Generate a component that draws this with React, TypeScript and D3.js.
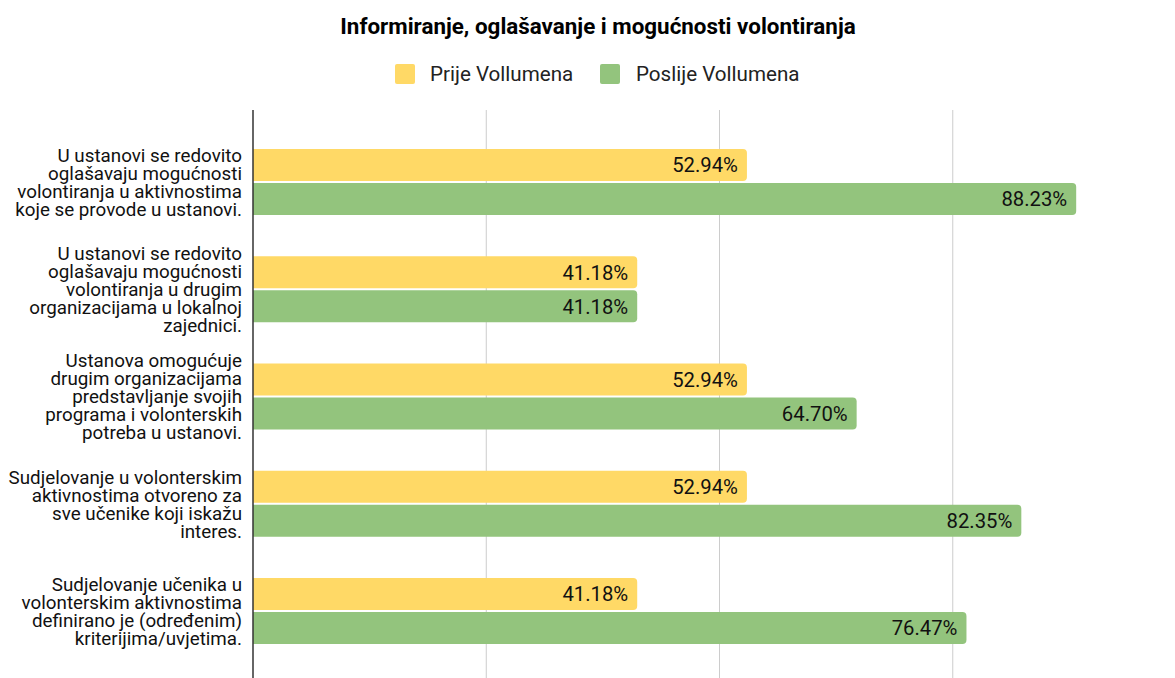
import React from "react";
import * as d3 from "d3";

const categories: string[][] = [
  ["U ustanovi se redovito", "oglašavaju mogućnosti", "volontiranja u aktivnostima", "koje se provode u ustanovi."],
  ["U ustanovi se redovito", "oglašavaju mogućnosti", "volontiranja u drugim", "organizacijama u lokalnoj", "zajednici."],
  ["Ustanova omogućuje", "drugim organizacijama", "predstavljanje svojih", "programa i volonterskih", "potreba u ustanovi."],
  ["Sudjelovanje u volonterskim", "aktivnostima otvoreno za", "sve učenike koji iskažu", "interes."],
  ["Sudjelovanje učenika u", "volonterskim aktivnostima", "definirano je (određenim)", "kriterijima/uvjetima."],
];
const seriesNames = ["Prije Vollumena", "Poslije Vollumena"];
const seriesColors = ["#FFD966", "#93C47D"];
const prije = [0.5294, 0.4118, 0.5294, 0.5294, 0.4118];
const poslije = [0.8823, 0.4118, 0.647, 0.8235, 0.7647];
const gridTicks = [0.25, 0.5, 0.75, 1.0];
const title = "Informiranje, oglašavanje i mogućnosti volontiranja";

const W = 1175;
const H = 678;
const FONT = "Roboto, 'Noto Sans', sans-serif";

function barPath(x0: number, x1: number, y: number, h: number, r: number) {
  const rr = Math.min(r, (x1 - x0) / 2, h / 2);
  return `M${x0},${y}H${x1 - rr}Q${x1},${y} ${x1},${y + rr}V${y + h - rr}Q${x1},${y + h} ${x1 - rr},${y + h}H${x0}Z`;
}

export default function App() {
  const x = d3.scaleLinear().domain([0, 1]).range([253, 1186]);
  const idx = categories.map((_, i) => i);
  const y = d3.scaleBand<number>().domain(idx).range([128.4, 664.6]).padding(0);
  const inner = d3.scaleBand<number>().domain([0, 1]).range([0, 66]).paddingInner(2 / 34).paddingOuter(0);
  const series = [prije, poslije];
  const fmt = (v: number) => (v * 100).toFixed(2) + "%";
  const lineH = 18;

  return (
    <svg width={W} height={H} style={{ position: "absolute", left: 0, top: 0, background: "#fff" }} fontFamily={FONT}>
      <rect x={0} y={0} width={W} height={H} fill="#fff" />
      <text x={598} y={34} textAnchor="middle" fontWeight="bold" fontSize={22.4} fill="#000">{title}</text>
      {/* legend */}
      {[{ sx: 395, tx: 430 }, { sx: 600, tx: 636 }].map((p, i) => (
        <g key={i}>
          <rect x={p.sx} y={64} width={20} height={20} rx={2} fill={seriesColors[i]} />
          <text x={p.tx} y={81} fontSize={20.6} fill="#222">{seriesNames[i]}</text>
        </g>
      ))}
      {/* gridlines */}
      {gridTicks.map((t) => (
        <line key={t} x1={x(t)} x2={x(t)} y1={110} y2={H} stroke="#ccc" strokeWidth={1} />
      ))}
      {/* bars */}
      {idx.map((i) => {
        const gy = (y(i) as number) + (y.bandwidth() - 66) / 2;
        return (
          <g key={i}>
            {series.map((s, k) => {
              const by = gy + (inner(k) as number);
              const bh = inner.bandwidth();
              const x1 = x(s[i]);
              return (
                <g key={k}>
                  <path d={barPath(x(0), x1, by, bh, 4)} fill={seriesColors[k]} />
                  <text x={x1 - 9} y={by + bh / 2} dy="0.36em" textAnchor="end" fontSize={20.3} fill="#111">{fmt(s[i])}</text>
                </g>
              );
            })}
          </g>
        );
      })}
      {/* category labels */}
      {idx.map((i) => {
        const lines = categories[i];
        const cy = (y(i) as number) + y.bandwidth() / 2;
        const top = cy - ((lines.length - 1) * lineH) / 2;
        return (
          <text key={i} textAnchor="end" fontSize={18.8} fill="#111">
            {lines.map((l, j) => (
              <tspan key={j} x={242} y={top + j * lineH} dy="0.36em">{l}</tspan>
            ))}
          </text>
        );
      })}
      {/* axis */}
      <line x1={x(0)} x2={x(0)} y1={110} y2={H} stroke="#333" strokeWidth={1.5} />
    </svg>
  );
}
